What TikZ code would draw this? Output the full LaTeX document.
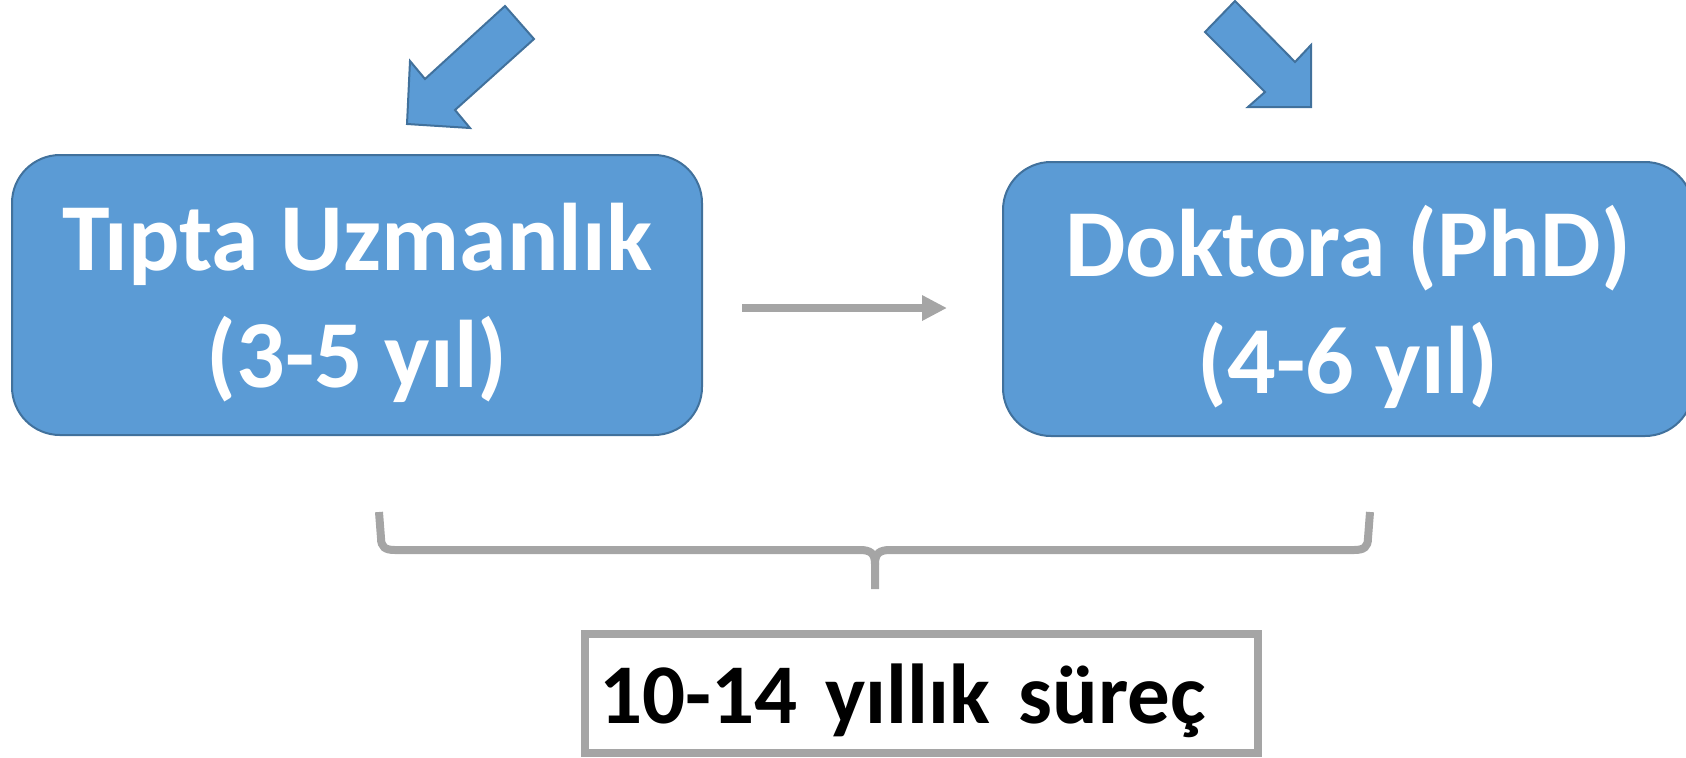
\documentclass[tikz,border=0pt]{standalone}
\usepackage{fontspec}
\setmainfont{Carlito}
\usetikzlibrary{arrows.meta}
\definecolor{boxblue}{HTML}{5B9BD5}
\definecolor{edgeblue}{HTML}{41719C}
\definecolor{linegray}{HTML}{A5A5A5}
\begin{document}
\begin{tikzpicture}[x=0.5pt,y=-0.5pt,
    stage/.style={draw=edgeblue,fill=boxblue,line width=1pt,rounded corners=24pt,
      text=white,font=\fontsize{48}{58.5}\selectfont\bfseries,align=center,
      minimum width=345pt,inner sep=0pt,text depth=0pt},
    pointer/.style={draw=edgeblue,fill=boxblue,line width=1pt},
    flow/.style={draw=linegray,line width=4pt,-{Triangle[length=12.5pt,width=12pt]}},
    span/.style={draw=linegray,line width=4pt},
    total/.style={draw=linegray,line width=4pt,fill=white,
      font=\fontsize{42.5}{51}\selectfont\bfseries,text width=322.5pt,
      inner xsep=7pt,align=left,minimum height=59.5pt,text depth=0pt}]
  \useasboundingbox (0,0) rectangle (1686,757);
  \node[stage,minimum height=140pt] (spec) at (357,295) {Tıpta Uzmanlık\\(3-5 yıl)};
  \node[stage,minimum height=137pt] (phd) at (1348,299) {Doktora (PhD)\\(4-6 yıl)};
  \node[total] (sum) at (921.5,693.5) {10-14 yıllık süreç};
  % block arrows on top
  \draw[pointer] (505,6) -- (534,39) -- (455,110) -- (470,128) -- (407,124)
    -- (410,61) -- (425,79) -- cycle;
  \draw[pointer] (1235,1) -- (1205,32) -- (1265,92) -- (1248,107) -- (1311,107)
    -- (1311,45) -- (1295,62) -- cycle;
  \draw[flow,shorten <=19.5pt,shorten >=27.5pt]
    ([yshift=-6.5pt]spec.east) -- ([yshift=-4.5pt]phd.west);
  % brace
  \draw[span] (379,512) -- (381,538) .. controls (381,547) and (385,550) .. (395,550)
    -- (860,550) .. controls (870,550) and (875,553) .. (875,564) -- (875,589);
  \draw[span] (1370,512) -- (1368,538) .. controls (1368,547) and (1364,550) .. (1354,550)
    -- (890,550) .. controls (880,550) and (875,553) .. (875,564);
\end{tikzpicture}
\end{document}
